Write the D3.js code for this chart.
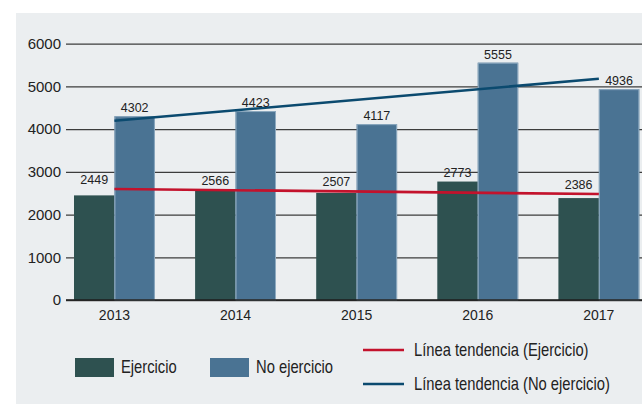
<!DOCTYPE html>
<html lang="es">
<head>
  <meta charset="UTF-8">
  <title>Ejercicio</title>
  <script src="https://cdn.jsdelivr.net/npm/d3@7"></script>
  <style>
    body { margin: 0; background: #fff; }
    svg { display: block; }
  </style>
</head>
<body>
  <div id="wrapper"></div>
  <script>
    // datos
    const years = ['2013', '2014', '2015', '2016', '2017']
    const ejercicio = [2449, 2566, 2507, 2773, 2386]
    const noEjercicio = [4302, 4423, 4117, 5555, 4936]
    // extremos de las lineas de tendencia
    const trendEjercicio = [2600, 2480]
    const trendNoEjercicio = [4195, 5180]
    const yTicks = [0, 1000, 2000, 3000, 4000, 5000, 6000]
    const seriesNames = ['Ejercicio', 'No ejercicio']
    const trendNames = ['Línea tendencia (Ejercicio)', 'Línea tendencia (No ejercicio)']

    const colors = { ej: '#2e5150', noej: '#4a7393', redTrend: '#c3122c', blueTrend: '#0b4a6f' }
    const sans = "'Liberation Sans', Arial, sans-serif"

    const dimensions = { width: 642, height: 404 }
    const svg = d3.select('#wrapper').append('svg')
      .attr('width', dimensions.width)
      .attr('height', dimensions.height)

    // panel gris
    svg.append('rect')
      .attr('x', 16).attr('y', 13)
      .attr('width', dimensions.width - 16).attr('height', dimensions.height - 13)
      .attr('fill', '#ebeef0')

    const yScale = d3.scaleLinear().domain([0, 6000]).range([300, 43.7])
    const xScale = d3.scaleBand().domain(years).range([74, 639.3]).paddingInner(0.332).paddingOuter(0)
    const xSub = d3.scaleBand().domain(seriesNames).range([0, xScale.bandwidth()])

    // rejilla
    const yAxis = d3.axisLeft(yScale).tickValues(yTicks).tickFormat(d3.format('d'))
      .tickSize(-(dimensions.width - 66)).tickPadding(5)
    const gy = svg.append('g').attr('transform', 'translate(66,0)').call(yAxis)
    gy.select('.domain').remove()
    gy.selectAll('.tick line').attr('stroke', '#3c3c3c').attr('stroke-width', 1.3)
    gy.selectAll('.tick text').attr('font-family', sans).attr('font-size', 15).attr('fill', '#222').attr('x', -5)

    // barras
    const rows = years.map((y, i) => ({ year: y, vals: [ejercicio[i], noEjercicio[i]] }))
    const groups = svg.append('g').selectAll('g').data(rows).join('g')
      .attr('transform', d => `translate(${xScale(d.year)},0)`)
    groups.selectAll('rect').data(d => d.vals.map((v, j) => ({ name: seriesNames[j], v }))).join('rect')
      .attr('x', d => xSub(d.name))
      .attr('y', d => yScale(d.v))
      .attr('width', xSub.bandwidth())
      .attr('height', d => yScale(0) - yScale(d.v))
      .attr('fill', d => d.name === 'Ejercicio' ? colors.ej : colors.noej)
    groups.selectAll('rect.edge').data(d => [d.vals[1]]).join('rect')
      .attr('class', 'edge')
      .attr('x', xSub('No ejercicio') + 0.5)
      .attr('y', d => yScale(d) + 0.5)
      .attr('width', xSub.bandwidth() - 1)
      .attr('height', d => yScale(0) - yScale(d) - 0.5)
      .attr('fill', 'none')
      .attr('stroke', '#8eaac0')
      .attr('stroke-width', 1)

    // eje x (linea 0)
    svg.append('line')
      .attr('x1', 66).attr('x2', dimensions.width)
      .attr('y1', yScale(0)).attr('y2', yScale(0))
      .attr('stroke', '#1e1e1e').attr('stroke-width', 1.6)
    svg.append('g').selectAll('text').data(years).join('text')
      .attr('x', d => xScale(d) + xScale.bandwidth() / 2)
      .attr('y', 320)
      .attr('text-anchor', 'middle')
      .attr('font-family', sans).attr('font-size', 14).attr('fill', '#222')
      .text(d => d)

    // lineas de tendencia
    const first = years[0], last = years[years.length - 1]
    const cx = yr => xScale(yr) + xScale.bandwidth() / 2
    const line = d3.line().x(d => cx(d[0])).y(d => yScale(d[1]))
    svg.append('path')
      .attr('d', line([[first, trendEjercicio[0]], [last, trendEjercicio[1]]]))
      .attr('stroke', colors.redTrend).attr('stroke-width', 2.6).attr('fill', 'none')
    svg.append('path')
      .attr('d', line([[first, trendNoEjercicio[0]], [last, trendNoEjercicio[1]]]))
      .attr('stroke', colors.blueTrend).attr('stroke-width', 2.6).attr('fill', 'none')

    // etiquetas de valores
    const trendAt = (t, i) => t[0] + (t[1] - t[0]) * i / (years.length - 1)
    svg.append('g').selectAll('text').data(ejercicio).join('text')
      .attr('x', (d, i) => xScale(years[i]) + xSub('Ejercicio') + xSub.bandwidth() / 2)
      .attr('y', (d, i) => Math.min(yScale(d), yScale(trendAt(trendEjercicio, i))) - 5)
      .attr('text-anchor', 'middle')
      .attr('font-family', sans).attr('font-size', 12.5).attr('fill', '#222')
      .text(d => d)
    svg.append('g').selectAll('text').data(noEjercicio).join('text')
      .attr('x', (d, i) => xScale(years[i]) + xSub('No ejercicio') + xSub.bandwidth() / 2)
      .attr('y', d => yScale(d) - 4)
      .attr('text-anchor', 'middle')
      .attr('font-family', sans).attr('font-size', 12.5).attr('fill', '#222')
      .text(d => d)

    // leyenda (texto estrechado a mano, no hay fuente condensada)
    const legend = svg.append('g')
    const addLabel = (x, y, t) => legend.append('text')
      .attr('transform', `translate(${x},${y}) scale(0.82,1)`)
      .attr('font-family', sans).attr('font-size', 18).attr('fill', '#222')
      .text(t)
    const swatchX = [75, 210]
    seriesNames.forEach((n, i) => {
      legend.append('rect')
        .attr('x', swatchX[i]).attr('y', 358).attr('width', 39).attr('height', 19)
        .attr('fill', i === 0 ? colors.ej : colors.noej)
      addLabel(swatchX[i] + 46, 373, n)
    })
    const trendY = [350, 384]
    trendNames.forEach((n, i) => {
      legend.append('line')
        .attr('x1', 363).attr('x2', 404).attr('y1', trendY[i]).attr('y2', trendY[i])
        .attr('stroke', i === 0 ? colors.redTrend : colors.blueTrend).attr('stroke-width', 2.6)
      addLabel(414, trendY[i] + 5.5, n)
    })
  </script>
</body>
</html>
